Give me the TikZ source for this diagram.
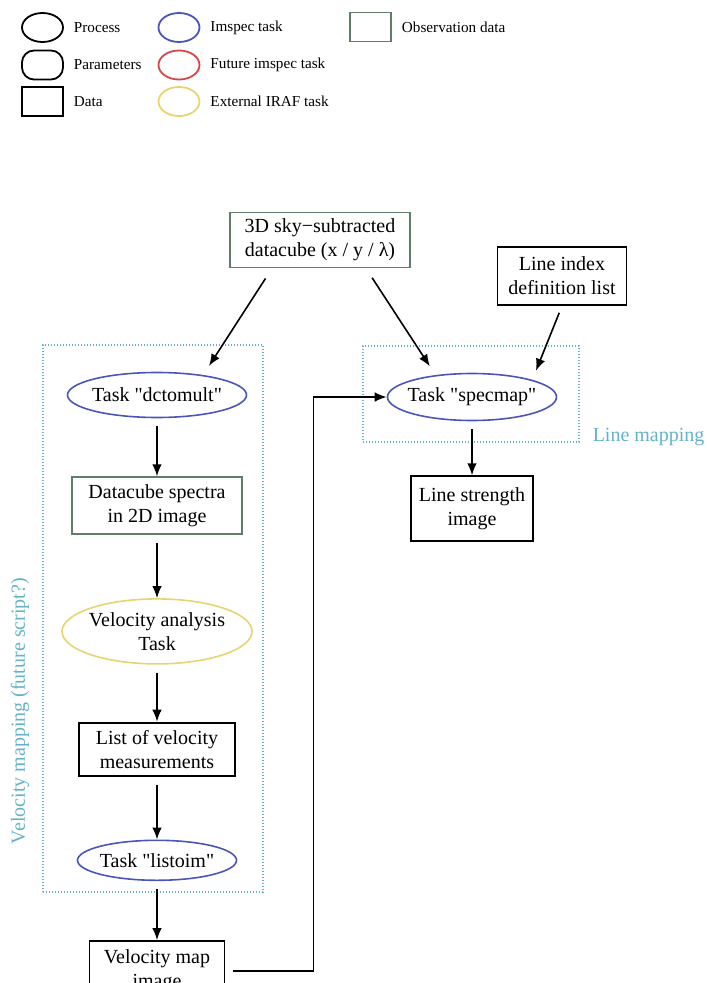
\documentclass[tikz,border=0pt]{standalone}
\usepackage{fontspec}
\setmainfont{Liberation Serif}
\usetikzlibrary{positioning,shapes.geometric,arrows.meta}

\definecolor{imspec}{RGB}{75,85,185}
\definecolor{future}{RGB}{215,70,70}
\definecolor{iraf}{RGB}{232,212,110}
\definecolor{obsdata}{RGB}{95,125,105}
\definecolor{grpcol}{RGB}{100,178,200}

\begin{document}
\begin{tikzpicture}[x=0.5pt,y=-0.5pt,font=\fontsize{10}{12}\selectfont,>={Latex[length=6pt,width=4.8pt]},
	task/.style={draw,ellipse,line width=0.8pt,inner xsep=-3pt,inner ysep=0pt,align=center},
	datum/.style={draw,rectangle,line width=0.9pt,inner sep=2pt,align=center},
	grp/.style={draw=grpcol,rectangle,line width=0.7pt,dash pattern=on 0.6pt off 0.9pt},
	flow/.style={->,line width=0.8pt,shorten <=4pt},
	keytext/.style={font=\fontsize{7.6}{9}\selectfont}]

	\useasboundingbox (0,0) rectangle (706,983);

	\begin{scope}[every node/.style={minimum width=20.5pt,minimum height=14.5pt,line width=0.9pt}]
		\node (kproc) at (42.5,27.5) [draw,ellipse] {};
		\node (kpar) at (42.5,65) [draw,rectangle,rounded corners=6pt] {};
		\node (kdata) at (42.5,101.5) [draw,rectangle] {};
		\node (kimspec) at (179,27.5) [draw=imspec,ellipse] {};
		\node (kfuture) at (179,65) [draw=future,ellipse] {};
		\node (kiraf) at (179,101.5) [draw=iraf,ellipse] {};
		\node (kobs) at (370.5,27) [draw=obsdata,rectangle] {};
	\end{scope}
	\node (tproc) at (kproc.east) [keytext,right=1.5pt] {Process};
	\node (tpar) at (kpar.east) [keytext,right=1.5pt] {Parameters};
	\node (tdata) at (kdata.east) [keytext,right=1.5pt] {Data};
	\node (timspec) at (kimspec.east) [keytext,right=1.5pt] {Imspec task};
	\node (tfuture) at (kfuture.east) [keytext,right=1.5pt] {Future imspec task};
	\node (tiraf) at (kiraf.east) [keytext,right=1.5pt] {External IRAF task};
	\node (tobs) at (kobs.east) [keytext,right=1.5pt] {Observation data};

	\node (velgrp) at (153,618.5) [grp,minimum width=110pt,minimum height=273.5pt] {};
	\node (lmgrp) at (471,394) [grp,minimum width=108pt,minimum height=48pt] {};
	\node (vmlabel) at (20,711) [rotate=90,text=grpcol] {Velocity mapping (future script?)};
	\node (lmlabel) at (lmgrp.south east) [right=3pt,yshift=3pt,text=grpcol] {Line mapping};

	\node (cube) at (320,240) [datum,draw=obsdata,minimum width=90pt,minimum height=27.5pt] {3D sky−subtracted\\datacube (x / y / λ)};
	\node (lidx) at (562,276) [datum,minimum width=64.5pt,minimum height=29pt] {Line index\\definition list};
	\node (specmap) at (472,397) [task,draw=imspec,minimum width=84.5pt,minimum height=23.5pt] {Task \textquotedbl specmap\textquotedbl};
	\node (lstr) at (specmap.south) [datum,below=27pt,minimum width=61pt,minimum height=32.5pt] {Line strength\\image};

	\node (dcto) at (157,395) [task,draw=imspec,minimum width=89.5pt,minimum height=22.5pt] {Task \textquotedbl dctomult\textquotedbl};
	\node (spectra) at (dcto.south) [datum,draw=obsdata,below=29pt,minimum width=85pt,minimum height=28.5pt] {Datacube spectra\\in 2D image};
	\node (velana) at (spectra.south) [task,draw=iraf,below=31.5pt,minimum width=95pt,minimum height=32.5pt] {Velocity analysis\\Task};
	\node (vlist) at (velana.south) [datum,below=28.5pt,minimum width=78pt,minimum height=26.5pt] {List of velocity\\measurements};
	\node (listoim) at (vlist.south) [task,draw=imspec,below=31.5pt,minimum width=79.5pt,minimum height=20pt] {Task \textquotedbl listoim\textquotedbl};
	\node (velmap) at (listoim.south) [datum,below=29.5pt,minimum width=67.5pt,minimum height=30pt] {Velocity map\\image};

	\draw[flow,shorten <=6pt,shorten >=7.5pt] ([xshift=-24pt]cube.south) -- ([xshift=-10pt]dcto.north east);
	\draw[flow,shorten <=5.6pt,shorten >=3.8pt] ([xshift=23pt]cube.south) -- ([xshift=-19pt]specmap.north);
	\draw[flow,shorten <=3.7pt,shorten >=4.9pt] (lidx.south) -- (specmap.north east);
	\draw[flow] (specmap) -- (lstr);
	\draw[flow] (dcto) -- (spectra);
	\draw[flow] (spectra) -- (velana);
	\draw[flow] (velana) -- (vlist);
	\draw[flow] (vlist) -- (listoim);
	\draw[flow] (listoim) -- (velmap);
	\draw[flow] (velmap.east) -- ++(88,0) |- (specmap.west);

\end{tikzpicture}
\end{document}
